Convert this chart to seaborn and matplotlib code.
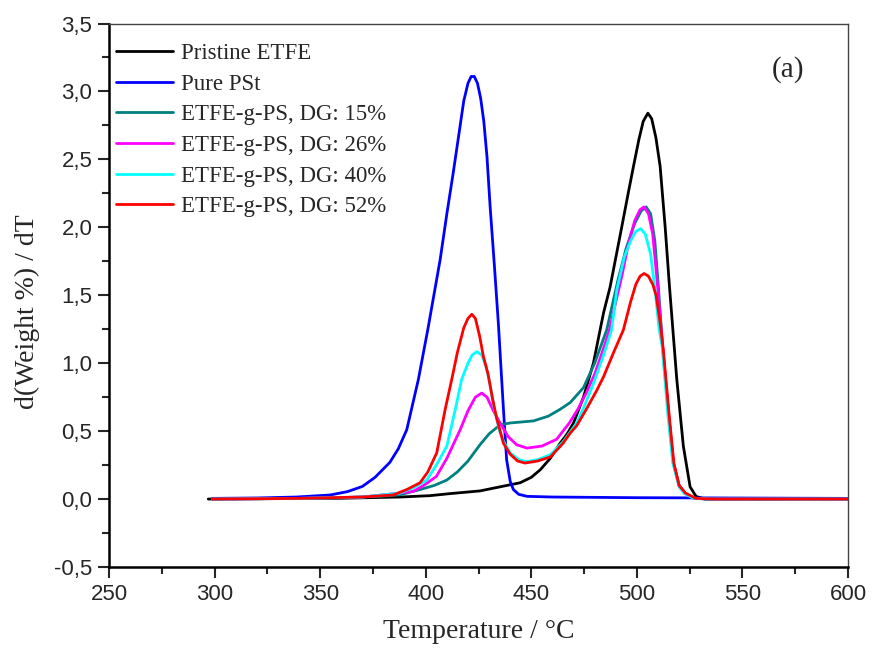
import numpy as np
import pandas as pd
import matplotlib
matplotlib.use("Agg")
import matplotlib.pyplot as plt
from matplotlib.ticker import MultipleLocator, FuncFormatter
import seaborn as sns

# ---- data ----
labels = ["Pristine ETFE", "Pure PSt", "ETFE-g-PS, DG: 15%",
          "ETFE-g-PS, DG: 26%", "ETFE-g-PS, DG: 40%", "ETFE-g-PS, DG: 52%"]
colors = ["#000000", "#0000ff", "#008080", "#ff00ff", "#00ffff", "#ff0000"]

etfe_T = [297, 330, 360, 388, 402, 411.5, 425.7, 435.2, 444.7, 450, 454.2, 459, 463.6,
          467, 470, 474.7, 479.4, 484.2, 487.3, 492.8, 496, 498.4, 501, 503, 505.2,
          507, 509, 511, 513.4, 515.4, 518.9, 522, 525.2, 528, 532, 600]
etfe_y = [0.0, 0.003, 0.006, 0.015, 0.025, 0.04, 0.06, 0.09, 0.12, 0.16, 0.215, 0.3,
          0.41, 0.48, 0.56, 0.75, 1.0, 1.37, 1.56, 2.0, 2.26, 2.45, 2.65, 2.78, 2.84,
          2.8, 2.66, 2.45, 2.0, 1.57, 0.88, 0.39, 0.09, 0.02, 0.0, 0.0]

pst_T = [299, 320, 338.8, 354.7, 363, 370, 376, 383, 387, 391, 396.5, 401, 406.8, 410,
         413, 416.4, 418, 420, 421.5, 423, 424.5, 426, 427.5, 429, 430.5, 432.5, 434.4,
         436.8, 438.3, 440, 441.5, 444, 448, 460, 500, 600]
pst_y = [0.005, 0.008, 0.015, 0.03, 0.055, 0.093, 0.16, 0.27, 0.37, 0.51, 0.88, 1.25,
         1.76, 2.1, 2.40, 2.76, 2.93, 3.06, 3.11, 3.11, 3.06, 2.95, 2.78, 2.52, 2.15,
         1.72, 1.29, 0.66, 0.29, 0.13, 0.07, 0.035, 0.02, 0.015, 0.01, 0.005]

dg15_T = [299, 340, 360, 378.4, 387.8, 397.3, 404, 410, 415, 420, 425.7, 430, 435.2,
          440, 451, 458, 463.6, 468.4, 474.7, 480, 485.7, 491, 495, 499, 502, 504.4,
          506.5, 508.5, 510, 512.2, 515, 517.3, 520, 522.8, 527, 535, 600]
dg15_y = [0.0, 0.005, 0.01, 0.02, 0.032, 0.07, 0.1, 0.14, 0.2, 0.28, 0.40, 0.48, 0.546,
          0.56, 0.575, 0.61, 0.66, 0.71, 0.82, 1.0, 1.245, 1.61, 1.85, 2.03, 2.12, 2.15,
          2.1, 1.9, 1.6, 1.12, 0.63, 0.265, 0.1, 0.044, 0.005, 0.0, 0.0]

dg26_T = [299, 340, 370, 387.8, 394, 399, 405, 410, 416.3, 420, 423.5, 426.5, 429, 432,
          435.2, 439, 443, 447.9, 455, 462, 468, 472, 476, 480, 484, 487, 490, 493, 496,
          499, 501.5, 503.4, 505.5, 507.5, 509.5, 512.2, 515, 517.3, 520, 522.8, 527,
          535, 600]
dg26_y = [0.0, 0.005, 0.015, 0.044, 0.056, 0.1, 0.166, 0.3, 0.51, 0.65, 0.75, 0.78,
          0.75, 0.65, 0.56, 0.46, 0.40, 0.375, 0.39, 0.44, 0.56, 0.66, 0.78, 0.92, 1.1,
          1.245, 1.45, 1.65, 1.88, 2.05, 2.13, 2.15, 2.1, 1.95, 1.62, 1.12, 0.63, 0.265,
          0.1, 0.044, 0.005, 0.0, 0.0]

dg40_T = [299, 340, 370, 387.8, 395, 400.5, 405, 410, 414, 417, 420, 422, 424.2, 426.5,
          428.5, 430, 432.5, 435, 437, 440, 444, 447.9, 453, 459, 465, 471.5, 475,
          479.4, 484, 488, 490.5, 494, 497, 499.5, 501.8, 504, 506.5, 508.6, 510.5,
          512, 514.6, 517, 520, 522.5, 527, 535, 600]
dg40_y = [0.0, 0.005, 0.015, 0.044, 0.09, 0.14, 0.25, 0.39, 0.66, 0.88, 1.0, 1.06, 1.085,
          1.06, 0.98, 0.88, 0.66, 0.5, 0.42, 0.34, 0.29, 0.276, 0.29, 0.326, 0.42, 0.56,
          0.68, 0.85, 1.05, 1.245, 1.54, 1.78, 1.9, 1.97, 1.99, 1.95, 1.8, 1.54, 1.25,
          1.12, 0.63, 0.265, 0.09, 0.04, 0.005, 0.0, 0.0]

dg52_T = [299, 340, 370, 384.5, 391, 397.3, 401, 405.2, 409.2, 412.3, 415, 418, 420,
          421.8, 423.5, 425.5, 427.3, 429.5, 431.5, 433.5, 436.8, 440, 443.5, 447, 453,
          459, 465, 468.4, 471.5, 476, 481, 484.2, 489, 493.6, 497, 499.5, 501.5, 503.4,
          505.5, 507.5, 509.1, 511, 512.5, 515.2, 517.5, 520, 523, 528, 536, 600]
dg52_y = [0.0, 0.005, 0.015, 0.03, 0.07, 0.12, 0.2, 0.34, 0.66, 0.88, 1.08, 1.26, 1.33,
          1.36, 1.33, 1.2, 1.05, 0.92, 0.75, 0.6, 0.41, 0.33, 0.28, 0.265, 0.28, 0.31,
          0.41, 0.485, 0.54, 0.66, 0.80, 0.90, 1.08, 1.245, 1.45, 1.58, 1.64, 1.66, 1.64,
          1.58, 1.5, 1.3, 1.1, 0.63, 0.265, 0.1, 0.044, 0.005, 0.0, 0.0]

series_T = [etfe_T, pst_T, dg15_T, dg26_T, dg40_T, dg52_T]
series_y = [etfe_y, pst_y, dg15_y, dg26_y, dg40_y, dg52_y]

xticks = [250, 300, 350, 400, 450, 500, 550, 600]
yticks = [-0.5, 0.0, 0.5, 1.0, 1.5, 2.0, 2.5, 3.0, 3.5]

frames = []
for lab, T, y in zip(labels, series_T, series_y):
    frames.append(pd.DataFrame({"T": T, "y": y, "series": lab}))
df = pd.concat(frames, ignore_index=True)

# ---- style ----
sns.set_style("ticks")
plt.rcParams["font.family"] = ["Liberation Sans", "DejaVu Sans"]
serif = ["Liberation Serif", "DejaVu Serif"]

fig = plt.figure(figsize=(8.73, 6.57), dpi=100)
ax = fig.add_axes([0.1249, 0.137, 0.9714 - 0.1249, 0.9642 - 0.137])

sns.lineplot(data=df, x="T", y="y", hue="series", hue_order=labels,
             palette=dict(zip(labels, colors)), sort=False, estimator=None,
             units="series", linewidth=2.0, ax=ax, legend=False)

ax.set_xlim(250, 600)
ax.set_ylim(-0.5, 3.5)
ax.set_xticks(xticks)
ax.set_yticks(yticks)
ax.xaxis.set_minor_locator(MultipleLocator(25))
ax.yaxis.set_minor_locator(MultipleLocator(0.25))
ax.yaxis.set_major_formatter(FuncFormatter(lambda v, p: f"{v:.1f}".replace(".", ",")))
ax.xaxis.set_major_formatter(FuncFormatter(lambda v, p: f"{v:.0f}"))

ax.tick_params(axis="both", which="major", direction="out", length=8, width=1.5,
               labelsize=16, pad=4, top=False, right=False)
ax.tick_params(axis="both", which="minor", direction="out", length=5, width=1.5,
               top=False, right=False)
for s in ["left", "bottom"]:
    ax.spines[s].set_linewidth(1.8)
    ax.spines[s].set_color("black")
for s in ["top", "right"]:
    ax.spines[s].set_linewidth(1.0)
    ax.spines[s].set_color("#444444")
    ax.spines[s].set_visible(True)

ax.set_xlabel("Temperature / °C", fontsize=20, family=serif, labelpad=10)
ax.set_ylabel("d(Weight %) / dT", fontsize=20, family=serif)
ax.yaxis.set_label_coords(-0.093, 0.47)

handles = [plt.Line2D([], [], color=c, linewidth=2.0) for c in colors]
leg = ax.legend(handles, labels, loc="upper left", frameon=False,
                prop={"family": serif, "size": 16.5}, handlelength=2.5,
                handletextpad=0.35, labelspacing=0.42, borderaxespad=0.0,
                borderpad=0.0, bbox_to_anchor=(0.0095, 0.964))

ax.text(0.919, 0.915, "(a)", transform=ax.transAxes, fontsize=21, family=serif,
        ha="center", va="center")

fig.savefig("out.png", dpi=100)
